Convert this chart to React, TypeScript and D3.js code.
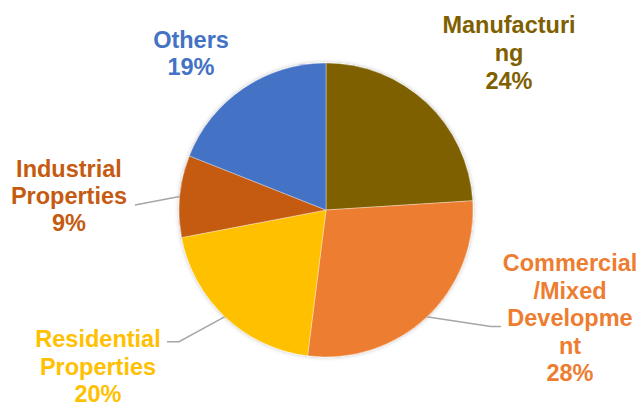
import React from "react";
import * as d3 from "d3";

const categories = ["Manufacturing", "Commercial/Mixed Development", "Residential Properties", "Industrial Properties", "Others"];
const values = [24, 28, 20, 9, 19];
const colors = ["#7F6000", "#ED7D31", "#FFC000", "#C55A11", "#4472C4"];
const labelLines = [
  ["Manufacturi", "ng", "24%"],
  ["Commercial", "/Mixed", "Developme", "nt", "28%"],
  ["Residential", "Properties", "20%"],
  ["Industrial", "Properties", "9%"],
  ["Others", "19%"],
];
const labelPos = [
  { x: 509, y: 33, lh: 28 },
  { x: 570, y: 271, lh: 27.6 },
  { x: 98, y: 347, lh: 27.5 },
  { x: 69, y: 177, lh: 27 },
  { x: 191, y: 48, lh: 27.3 },
];
// leader line polylines (from label to just inside pie edge; the inner part is covered by the pie)
const leaders: { [k: number]: [number, number][] } = {
  1: [[501, 326.5], [491, 326.5], [428, 317], [412, 315]],
  2: [[167, 341.7], [179, 341.7], [225, 316.7], [238, 310]],
  3: [[135, 205], [177, 197], [192, 194.5]],
};

export default function App() {
  const W = 641, H = 403;
  const cx = 326, cy = 210, r = 147;
  const pie = d3.pie<number>().value((d) => d).sort(null);
  const arcs = pie(values);
  const arc = d3.arc<d3.PieArcDatum<number>>().innerRadius(0).outerRadius(r);

  return (
    <svg width={W} height={H} style={{ position: "absolute", left: 0, top: 0, background: "#fff" }}
      fontFamily="'Liberation Sans', Arial, sans-serif">
      <defs>
        <filter id="sh" x="-10%" y="-10%" width="120%" height="120%">
          <feDropShadow dx="0" dy="0" stdDeviation="2" floodColor="#000" floodOpacity="0.25" />
        </filter>
      </defs>
      <g filter="url(#sh)" transform={`translate(${cx},${cy})`}>
        {arcs.map((a, i) => (
          <path key={i} d={arc(a) || ""} fill={colors[i]} stroke="#fff" strokeWidth={0.6} />
        ))}
      </g>
      {Object.keys(leaders).map((k) => {
        const i = Number(k);
        const d = d3.line()(leaders[i]) || "";
        return <path key={"l" + i} d={d} fill="none" stroke="#A6A6A6" strokeWidth={1.5} />;
      })}
      <g transform={`translate(${cx},${cy})`}>
        {arcs.map((a, i) => (
          <path key={"r" + i} d={arc(a) || ""} fill={colors[i]} stroke="#fff" strokeWidth={0.6} strokeOpacity={0.6} />
        ))}
      </g>
      {labelLines.map((lines, i) => (
        <text key={"t" + i} x={labelPos[i].x} y={labelPos[i].y} textAnchor="middle"
          fontSize={23.5} fontWeight="bold" fill={colors[i]}>
          {lines.map((s, j) => (
            <tspan key={j} x={labelPos[i].x} y={labelPos[i].y + j * labelPos[i].lh}>{s}</tspan>
          ))}
        </text>
      ))}
    </svg>
  );
}
